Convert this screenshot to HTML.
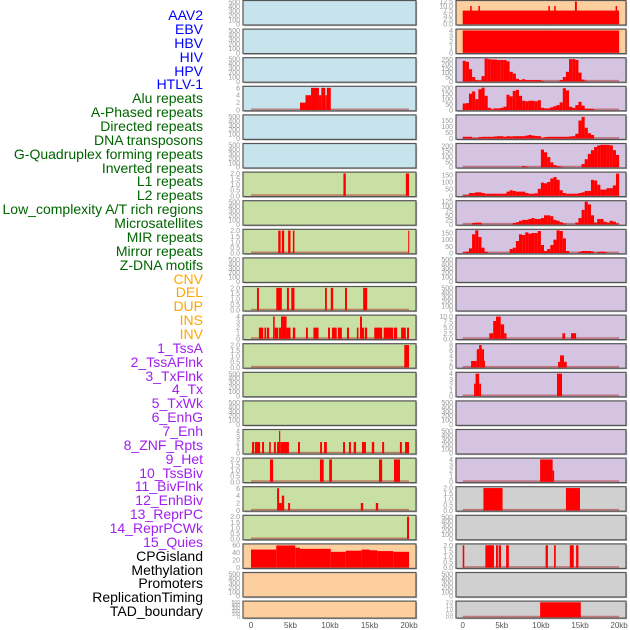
<!DOCTYPE html>
<html><head><meta charset="utf-8">
<style>
html,body{margin:0;padding:0;background:#fff;}
svg{display:block;font-family:"Liberation Sans",sans-serif;}
</style></head>
<body>
<svg id="chart" width="630" height="630" viewBox="0 0 630 630" xmlns="http://www.w3.org/2000/svg">
<g id="labels" font-size="14" text-anchor="end">
<text x="203" y="20" fill="#0000ff">AAV2</text>
<text x="203" y="34" fill="#0000ff">EBV</text>
<text x="203" y="48" fill="#0000ff">HBV</text>
<text x="203" y="62" fill="#0000ff">HIV</text>
<text x="203" y="76" fill="#0000ff">HPV</text>
<text x="203" y="89" fill="#0000ff">HTLV-1</text>
<text x="203" y="103" fill="#006400">Alu repeats</text>
<text x="203" y="117" fill="#006400">A-Phased repeats</text>
<text x="203" y="131" fill="#006400">Directed repeats</text>
<text x="203" y="145" fill="#006400">DNA transposons</text>
<text x="203" y="159" fill="#006400">G-Quadruplex forming repeats</text>
<text x="203" y="173" fill="#006400">Inverted repeats</text>
<text x="203" y="186" fill="#006400">L1 repeats</text>
<text x="203" y="200" fill="#006400">L2 repeats</text>
<text x="203" y="214" fill="#006400">Low_complexity A/T rich regions</text>
<text x="203" y="228" fill="#006400">Microsatellites</text>
<text x="203" y="242" fill="#006400">MIR repeats</text>
<text x="203" y="256" fill="#006400">Mirror repeats</text>
<text x="203" y="270" fill="#006400">Z-DNA motifs</text>
<text x="203" y="284" fill="#ffa500">CNV</text>
<text x="203" y="297" fill="#ffa500">DEL</text>
<text x="203" y="311" fill="#ffa500">DUP</text>
<text x="203" y="325" fill="#ffa500">INS</text>
<text x="203" y="339" fill="#ffa500">INV</text>
<text x="203" y="353" fill="#a020f0">1_TssA</text>
<text x="203" y="367" fill="#a020f0">2_TssAFlnk</text>
<text x="203" y="381" fill="#a020f0">3_TxFlnk</text>
<text x="203" y="394" fill="#a020f0">4_Tx</text>
<text x="203" y="408" fill="#a020f0">5_TxWk</text>
<text x="203" y="422" fill="#a020f0">6_EnhG</text>
<text x="203" y="436" fill="#a020f0">7_Enh</text>
<text x="203" y="450" fill="#a020f0">8_ZNF_Rpts</text>
<text x="203" y="464" fill="#a020f0">9_Het</text>
<text x="203" y="478" fill="#a020f0">10_TssBiv</text>
<text x="203" y="491" fill="#a020f0">11_BivFlnk</text>
<text x="203" y="505" fill="#a020f0">12_EnhBiv</text>
<text x="203" y="519" fill="#a020f0">13_ReprPC</text>
<text x="203" y="533" fill="#a020f0">14_ReprPCWk</text>
<text x="203" y="547" fill="#a020f0">15_Quies</text>
<text x="203" y="561" fill="#000">CPGisland</text>
<text x="203" y="575" fill="#000">Methylation</text>
<text x="203" y="588" fill="#000">Promoters</text>
<text x="203" y="602" fill="#000">ReplicationTiming</text>
<text x="203" y="616" fill="#000">TAD_boundary</text>
</g>
<g id="panels"></g>
<g id="xaxes" font-size="8" fill="#555" text-anchor="middle"></g>
</svg>
<script>
// ---------- data (kb units) ----------
const BIN = 0.4;
const xTicksKb = [0, 5, 10, 15, 20];
const xTickLabels = ["0", "5kb", "10kb", "15kb", "20kb"];

const tkE = ["0","100","200","300","400","500"];
const tkE_v = [0,100,200,300,400,500];
const tk2_v = [0,0.5,1,1.5,2];
const tk2 = ["0.0","0.5","1.0","1.5","2.0"];

const L3_s=[6.2,6.9,7.6,8.6,8.9,9.4,9.6]; const L3_e=[6.9,7.6,8.6,8.9,9.4,9.6,10.1]; const L3_v=[2,4,6,4,6,4,6];
const L6_s=[11.7,19.6]; const L6_e=[12.0,20.0]; const L6_v=[2,2];
const L8_s=[3.45,3.9,4.7,5.3,19.9]; const L8_e=[3.75,4.2,5.0,5.5,20.0]; const L8_v=[2,2,2,2,2];
const L10_s=[0.76,3.2,4.55,5.1,9.37,10.1,11.9,14.2]; const L10_e=[1.0,3.9,4.8,5.5,9.6,10.4,12.15,14.7]; const L10_v=[2,2,2,2,2,2,2,2];
const L11_s=[1.0,1.7,2.0,2.8,3.0,3.55,3.8,4.05,4.5,5.3,6.96,7.9,9.75,10.25,11.0,12.15,13.4,13.8,14.05,14.4,15.6,16.8,18.1,19.0,19.75];
const L11_e=[1.55,1.9,2.3,3.0,3.45,3.8,4.05,4.5,5.0,5.6,7.2,8.55,10.0,10.85,11.5,12.4,13.6,14.05,14.3,14.7,16.6,18.0,18.5,19.6,20.0];
const L11_v=[2,2,2,4,2,2,4,4,2,2,2,2,2,2,2,2,2,4,2,2,2,2,2,2,2];
const L12_s=[19.4]; const L12_e=[20.0]; const L12_v=[2];
const L15_s=[0.13,0.5,1.4,2.3,2.9,3.3,3.55,3.7,5.95,8.75,9.25,11.65,12.4,13.0,14.05,15.3,16.6,18.85,19.5];
const L15_e=[0.4,1.15,1.65,2.5,3.15,3.55,3.7,4.8,6.2,8.99,9.6,11.9,12.65,13.3,14.55,15.6,16.85,19.1,20.0];
const L15_v=[2,2,2,2,2,2,4,2,2,2,2,2,2,2,2,2,2,2,2];
const L16_s=[2.4,8.73,9.9,16.2,18.1]; const L16_e=[2.8,9.2,10.25,16.6,18.86]; const L16_v=[2,2,2,2,2];
const L17_s=[3.3,3.55,3.9,4.7,13.9,15.8]; const L17_e=[3.55,3.9,4.2,4.95,14.2,16.1]; const L17_v=[6,2,4,2,2,2];
const L18_s=[19.75]; const L18_e=[20.0]; const L18_v=[2];
const L19_s=[0,3.2,5.6,6.2,10.1,12.0,14.0,15.0,16.0,18.0]; const L19_e=[3.2,5.6,6.2,10.1,12.0,14.0,15.0,16.0,18.0,20.0]; const L19_v=[48,59,53,50,42,45,48,46,44,42];

const R0_s=[0,0.95,2.0,10.95,11.7,14.35,19.55]; const R0_e=[20,1.15,2.2,11.15,11.9,14.6,19.75]; const R0_v=[7.5,10,10,10,10,12.5,10];
const R1_s=[0]; const R1_e=[20]; const R1_v=[4];
const R2_b=[235,225,140,50,15,10,60,260,255,250,250,245,245,245,230,110,90,30,15,25,15,15,15,15,15,5,0,0,0,0,0,15,50,110,255,255,245,100,20,5,0,0,0,0,0,0,0,0,0,0];
const R3_b=[60,63,150,170,100,190,205,130,20,5,15,15,20,30,140,125,175,185,130,85,80,85,85,80,90,20,15,15,25,35,45,70,200,180,30,20,45,75,40,12,10,10,0,0,0,0,0,0,0,0];
const R4_b=[15,15,15,5,5,12,15,15,15,15,18,20,20,15,20,18,20,20,20,20,25,30,25,22,20,5,12,15,15,15,15,15,15,15,18,20,40,150,180,90,45,30,0,0,0,0,0,0,0,0];
const R5_b=[0,0,0,0,0,0,0,0,0,0,0,0,0,0,0,0,0,0,0,10,5,0,0,0,0,165,140,95,45,20,10,5,0,0,0,0,0,0,30,75,125,160,190,205,210,210,210,205,160,115];
const R6_b=[5,5,20,20,25,25,20,15,15,15,15,15,15,15,30,40,35,30,30,30,20,15,15,18,50,95,90,100,125,135,115,40,20,15,15,15,15,20,25,35,35,115,110,80,45,45,55,55,75,160];
const R7_b=[0,0,0,8,10,10,0,0,0,0,0,0,0,0,0,0,8,12,20,25,25,30,35,30,30,35,50,50,45,25,20,12,5,0,0,0,10,35,80,125,110,50,10,30,30,15,10,20,15,5];
const R8_b=[5,10,35,140,170,120,40,10,0,0,0,0,0,0,0,30,40,90,140,135,155,145,150,150,165,60,15,30,60,100,170,165,110,15,0,0,0,10,15,15,15,12,0,8,10,8,0,0,0,0];
const R11_s=[3.4,3.9,4.26,4.86,5.3,12.75,13.85]; const R11_e=[3.9,4.26,4.86,5.3,5.6,13.1,14.5]; const R11_v=[2.5,8,10,6.5,2.5,2.5,2.5];
const R12_s=[1.07,1.8,2.1,2.43,2.73,12.2,12.45,12.95]; const R12_e=[1.8,2.1,2.43,2.73,2.86,12.45,12.95,13.3]; const R12_v=[2.3,6.5,8,6.5,2.3,2,4.3,2];
const R13_s=[1.45,1.65,2.1,12.06]; const R13_e=[1.65,2.1,2.35,12.7]; const R13_v=[2.2,4,2.2,4];
const R16_s=[9.9,11.5]; const R16_e=[11.5,11.7]; const R16_v=[4,2];
const R17_s=[2.65,13.2]; const R17_e=[5.1,15.0]; const R17_v=[2,2];
const R19_s=[0,2.9,4.26,4.6,5.55,10.6,11.68,13.7,14.5]; const R19_e=[0.2,4.0,4.5,4.9,5.9,10.9,11.9,14.2,14.8]; const R19_v=[2,2,2,2,2,2,2,2,2];
const R21_s=[9.9]; const R21_e=[15.1]; const R21_v=[2];

const C = {
  blue:"#c7e3ec", green:"#c8e0a3", orange:"#fecf9e", purple:"#d5c4e1", gray:"#d0d0d0"
};
const cols = [
  {x0:243, x1:416, ox:251, k:7.9},
  {x0:456, x1:626, ox:462.7, k:7.82}
];
function xs(col, kb){ return cols[col].ox + kb*cols[col].k; }

function seg(s,e,v){ return {s:s,e:e,v:v}; }
function bins(b){ return {b:b}; }
const T = (vals, labs, ymax) => ({tv:vals, tl:labs, ymax:ymax});
const TE = T(tkE_v, tkE, 515);
const T2 = T(tk2_v, tk2, 2.05);
const T4 = T([0,1,2,3,4],["0","1","2","3","4"],4.1);

const panels = [
 {c:0,r:0,bg:C.blue,t:TE,name:"aav2"},
 {c:0,r:1,bg:C.blue,t:TE,name:"hbv"},
 {c:0,r:2,bg:C.blue,t:TE,name:"hpv"},
 {c:0,r:3,bg:C.blue,t:T([0,2,4,6],["0","2","4","6"],6.2),d:seg(L3_s,L3_e,L3_v),name:"alu"},
 {c:0,r:4,bg:C.blue,t:TE,name:"directed"},
 {c:0,r:5,bg:C.blue,t:TE,name:"g-quadruplex"},
 {c:0,r:6,bg:C.green,t:T2,d:seg(L6_s,L6_e,L6_v),name:"l1"},
 {c:0,r:7,bg:C.green,t:TE,name:"low-complexity"},
 {c:0,r:8,bg:C.green,t:T2,d:seg(L8_s,L8_e,L8_v),name:"mir"},
 {c:0,r:9,bg:C.green,t:TE,name:"z-dna"},
 {c:0,r:10,bg:C.green,t:T2,d:seg(L10_s,L10_e,L10_v),name:"del"},
 {c:0,r:11,bg:C.green,t:T4,d:seg(L11_s,L11_e,L11_v),name:"ins"},
 {c:0,r:12,bg:C.green,t:T2,d:seg(L12_s,L12_e,L12_v),name:"1-tssa"},
 {c:0,r:13,bg:C.green,t:TE,name:"3-txflnk"},
 {c:0,r:14,bg:C.green,t:TE,name:"5-txwk"},
 {c:0,r:15,bg:C.green,t:T4,d:seg(L15_s,L15_e,L15_v),name:"7-enh"},
 {c:0,r:16,bg:C.green,t:T2,d:seg(L16_s,L16_e,L16_v),name:"9-het"},
 {c:0,r:17,bg:C.green,t:T([0,2,4,6],["0","2","4","6"],6.2),d:seg(L17_s,L17_e,L17_v),name:"11-bivflnk"},
 {c:0,r:18,bg:C.green,t:T2,d:seg(L18_s,L18_e,L18_v),name:"13-reprpc"},
 {c:0,r:19,bg:C.orange,t:T([0,20,40,60],["0","20","40","60"],61),d:seg(L19_s,L19_e,L19_v),name:"cpgisland"},
 {c:0,r:20,bg:C.orange,t:TE,name:"promoters"},
 {c:0,r:21,bg:C.orange,t:TE,name:"tad-boundary"},
 {c:1,r:0,bg:C.orange,t:T([0,2.5,5,7.5,10,12.5],["0.0","2.5","5.0","7.5","10.0","12.5"],12.6),d:seg(R0_s,R0_e,R0_v),name:"ebv"},
 {c:1,r:1,bg:C.orange,t:T4,d:seg(R1_s,R1_e,R1_v),name:"hiv"},
 {c:1,r:2,bg:C.purple,t:T([0,50,100,150,200,250],["0","50","100","150","200","250"],262),d:bins(R2_b),name:"htlv1"},
 {c:1,r:3,bg:C.purple,t:T([0,50,100,150,200],["0","50","100","150","200"],210),d:bins(R3_b),name:"a-phased"},
 {c:1,r:4,bg:C.purple,t:T([0,50,100,150],["0","50","100","150"],190),d:bins(R4_b),name:"dna-transposons"},
 {c:1,r:5,bg:C.purple,t:T([0,50,100,150,200],["0","50","100","150","200"],215),d:bins(R5_b),name:"inverted"},
 {c:1,r:6,bg:C.purple,t:T([0,50,100,150],["0","50","100","150"],165),d:bins(R6_b),name:"l2"},
 {c:1,r:7,bg:C.purple,t:T([0,25,50,75,100,125],["0","25","50","75","100","125"],126),d:bins(R7_b),name:"microsatellites"},
 {c:1,r:8,bg:C.purple,t:T([0,50,100,150],["0","50","100","150"],172),d:bins(R8_b),name:"mirror"},
 {c:1,r:9,bg:C.purple,t:TE,name:"cnv"},
 {c:1,r:10,bg:C.purple,t:TE,name:"dup"},
 {c:1,r:11,bg:C.purple,t:T([0,2.5,5,7.5,10],["0.0","2.5","5.0","7.5","10.0"],10.3),d:seg(R11_s,R11_e,R11_v),name:"inv"},
 {c:1,r:12,bg:C.purple,t:T([0,2,4,6,8],["0","2","4","6","8"],8.2),d:seg(R12_s,R12_e,R12_v),name:"2-tssaflnk"},
 {c:1,r:13,bg:C.purple,t:T4,d:seg(R13_s,R13_e,R13_v),name:"4-tx"},
 {c:1,r:14,bg:C.purple,t:TE,name:"6-enhg"},
 {c:1,r:15,bg:C.purple,t:TE,name:"8-znf-rpts"},
 {c:1,r:16,bg:C.purple,t:T4,d:seg(R16_s,R16_e,R16_v),name:"10-tssbiv"},
 {c:1,r:17,bg:C.gray,t:T2,d:seg(R17_s,R17_e,R17_v),name:"12-enhbiv"},
 {c:1,r:18,bg:C.gray,t:TE,name:"14-reprpcwk"},
 {c:1,r:19,bg:C.gray,t:T2,d:seg(R19_s,R19_e,R19_v),name:"15-quies"},
 {c:1,r:20,bg:C.gray,t:TE,name:"methylation"},
 {c:1,r:21,bg:C.gray,t:T2,d:seg(R21_s,R21_e,R21_v),name:"replicationtiming"}
];

const NS = "http://www.w3.org/2000/svg";
function mk(tag, attrs, parent){
  const el = document.createElementNS(NS, tag);
  for (const k in attrs) el.setAttribute(k, attrs[k]);
  parent.appendChild(el);
  return el;
}
const gP = document.getElementById("panels");

panels.forEach(p => {
  const col = cols[p.c];
  const top = p.r*28.6 + 0.5;
  const h = p.r === 21 ? 17 : 24.5;
  const bottom = top + h;
  const g = mk("g", {}, gP);
  
  
  mk("rect", {x:col.x0+1.2, y:top+1.2, width:col.x1-col.x0, height:h, fill:"#b8b8b8"}, g);
  const bg = mk("rect", {x:col.x0, y:top, width:col.x1-col.x0, height:h, fill:p.bg}, g);
  
  
  const ys = v => bottom - 0.8 - v/p.t.ymax*(h-1.6);
  const fs = h < 20 ? 5 : 7;
  p.t.tv.forEach((v,i) => {
    const t = mk("text", {x:col.x0-3, y:ys(v)+fs*0.36, "font-size":fs, fill:"#999", "text-anchor":"end"}, g);
    t.textContent = p.t.tl[i];
    
    
  });
  if (p.d) {
    const bl = mk("line", {x1:xs(p.c,0), x2:xs(p.c,20), y1:bottom-1.5, y2:bottom-1.5, stroke:"rgba(175,50,50,0.55)", "stroke-width":1.6}, g);
    
    
    const draw = (s,e,v) => {
      if (!v) return;
      const x1 = xs(p.c,s), x2 = xs(p.c,e);
      const b = mk("rect", {x:x1, y:ys(v), width:Math.max(1,x2-x1), height:Math.max(0,bottom-0.8-ys(v)), fill:"#ff0000"}, g);
      
      
    };
    if (p.d.b) p.d.b.forEach((v,i) => draw(i*BIN,(i+1)*BIN,v));
    else p.d.s.forEach((s,i) => draw(s,p.d.e[i],p.d.v[i]));
  }
  const br = mk("rect", {x:col.x0, y:top, width:col.x1-col.x0, height:h, fill:"none", stroke:"#555", "stroke-width":1.2}, g);
  
  
});

const gX = document.getElementById("xaxes");
[0,1].forEach(c => {
  xTicksKb.forEach((kb,i) => {
    const t = mk("text", {x:xs(c,kb), y:628}, gX);
    t.textContent = xTickLabels[i];
    
    
  });
});
</script>
</body></html>
